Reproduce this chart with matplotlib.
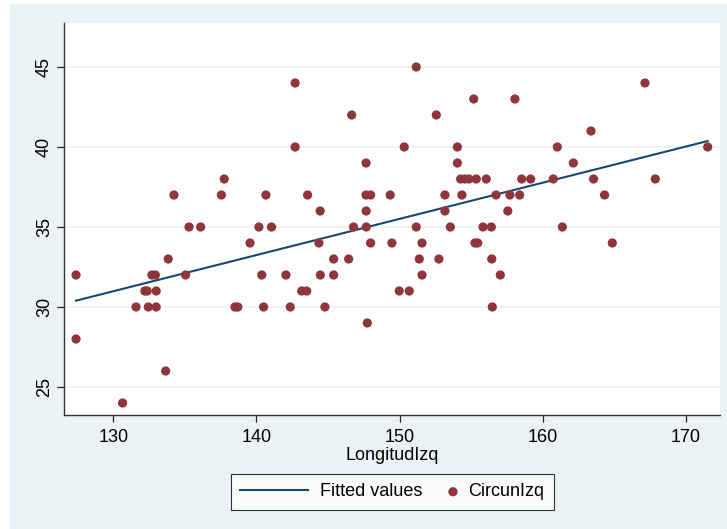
import numpy as np
import matplotlib
matplotlib.use("Agg")
import matplotlib.pyplot as plt
from matplotlib.patches import Rectangle
from matplotlib.legend_handler import HandlerPathCollection

plt.rcParams['font.family'] = ['Liberation Sans', 'DejaVu Sans']

# CircunIzq vs LongitudIzq
longitud = [
    151.16,
    142.7, 167.13,
    155.17, 158.05,
    146.65, 152.56,
    163.36,
    142.7, 150.32, 154.03, 161.01, 171.51,
    147.65, 154.03, 162.13,
    137.75, 154.26, 154.56, 154.84, 155.35, 156.05, 158.52, 159.15, 160.73, 163.54, 167.85,
    134.24, 137.55, 140.66, 143.57, 147.65, 147.97, 149.34, 153.16, 154.35, 156.73, 157.7, 158.38, 164.31,
    144.45, 147.66, 153.16, 157.55,
    135.29, 136.1, 140.17, 141.05, 146.78, 147.67, 151.16, 153.54, 155.82, 156.4, 161.36,
    139.55, 144.36, 147.97, 149.46, 151.56, 155.26, 155.45, 164.85,
    133.84, 145.39, 146.44, 151.37, 152.74, 156.43,
    127.4, 132.7, 132.94, 135.05, 140.37, 142.06, 144.46, 145.39, 151.56, 157.03,
    132.21, 132.37, 133.0, 143.16, 143.51, 149.97, 150.67,
    131.59, 132.45, 133.0, 138.5, 138.7, 140.5, 142.36, 144.78, 156.47,
    147.74,
    127.4,
    133.66,
    130.65,
]
circun = (
    [45] * 1 + [44] * 2 + [43] * 2 + [42] * 2 + [41] * 1 + [40] * 5 + [39] * 3
    + [38] * 11 + [37] * 13 + [36] * 4 + [35] * 11 + [34] * 8 + [33] * 6
    + [32] * 10 + [31] * 7 + [30] * 9 + [29] + [28] + [26] + [24]
)

x = np.array(longitud)
y = np.array(circun, dtype=float)

# linear fit, like lfit
b, a = np.polyfit(x, y, 1)
xs = np.array([x.min(), x.max()])
fitted = a + b * xs


class RightMarker(HandlerPathCollection):
    # put the legend dot near the text instead of mid-box
    def get_xdata(self, legend, xdescent, ydescent, width, height, fontsize):
        xd = [-xdescent + width - 0.2 * fontsize]
        return xd, xd


bg = '#EAF2F3'
fig = plt.figure(figsize=(7.27, 5.29), dpi=100, facecolor='white')
fig.patches.append(Rectangle((10 / 727, 0), 1, 1 - 4 / 529, transform=fig.transFigure,
                             facecolor=bg, edgecolor='none', zorder=-10))

ax = fig.add_axes([64 / 727, 1 - 415 / 529, (720 - 64) / 727, (415 - 23) / 529])
ax.set_facecolor('white')

ax.grid(axis='y', color=bg, linewidth=1.2, zorder=0)
ax.set_axisbelow(True)

line, = ax.plot(xs, fitted, color='#1A476F', linewidth=1.5, zorder=2,
                label='Fitted values')
pts = ax.scatter(x, y, s=44, color='#90353B', edgecolors='none', zorder=3,
                 label='CircunIzq')

ax.set_xlim(126.56, 172.37)
ax.set_ylim(23.25, 47.75)
ax.set_xticks([130, 140, 150, 160, 170])
ax.set_yticks([25, 30, 35, 40, 45])
ax.tick_params(axis='both', direction='out', length=5, width=0.9,
               labelsize=13, color='#222222')
ax.tick_params(axis='x', pad=5)
ax.tick_params(axis='y', pad=3)
for lbl in ax.get_yticklabels():
    lbl.set_rotation(90)
    lbl.set_va('center')

for side in ['top', 'right']:
    ax.spines[side].set_visible(False)
for side in ['left', 'bottom']:
    ax.spines[side].set_color('#333333')
    ax.spines[side].set_linewidth(1.0)

ax.set_xlabel('LongitudIzq', fontsize=13, labelpad=1)

leg = fig.legend(handles=[line, pts], loc='center',
                 bbox_to_anchor=(392 / 727, 1 - 492 / 529), ncol=2,
                 fontsize=13, frameon=True, fancybox=False, handlelength=3.77,
                 columnspacing=-1.85, handletextpad=0.66, borderpad=0.5,
                 scatterpoints=1, handler_map={pts: RightMarker()})
leg.get_frame().set_edgecolor('black')
leg.get_frame().set_linewidth(0.8)
leg.get_frame().set_facecolor('white')

fig.savefig('out.png', dpi=100, facecolor='white')
